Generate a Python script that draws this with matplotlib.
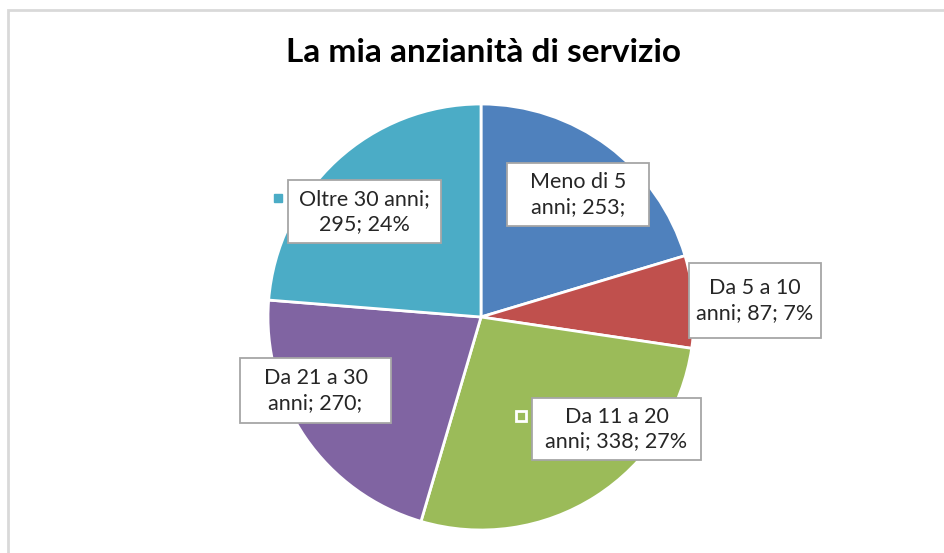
import matplotlib.pyplot as plt
from matplotlib.patches import Rectangle

# dati del grafico
categorie = ["Meno di 5 anni", "Da 5 a 10 anni", "Da 11 a 20 anni", "Da 21 a 30 anni", "Oltre 30 anni"]
valori = [253, 87, 338, 270, 295]
colori = ["#4F81BD", "#C0504D", "#9BBB59", "#8064A2", "#4BACC6"]
# testo delle etichette come nel grafico originale (alcune troncate)
etichette = [
    "Meno di 5\nanni; 253;",
    "Da 5 a 10\nanni; 87; 7%",
    "Da 11 a 20\nanni; 338; 27%",
    "Da 21 a 30\nanni; 270;",
    "Oltre 30 anni;\n295; 24%",
]

# centro e raggio della torta in pixel, per l'impaginazione
W, H = 944, 553
CX, CY, R = 481, 317, 213

# posizione (centro) e dimensione delle caselle etichetta, in pixel
box_pos = [(578, 194.5), (755, 300.5), (616.5, 429), (315.5, 390.5), (364.5, 211.5)]
box_size = [(142, 63), (132, 75), (169, 62), (151, 65), (153, 63)]

plt.rcParams["font.family"] = ["Lato", "DejaVu Sans"]

fig = plt.figure(figsize=(W / 100, H / 100), dpi=100)
ax = fig.add_axes([0, 0, 1, 1])

# cornice grigia dell'area grafico
fig.patches.append(Rectangle((8 / W, -0.1), 1.1, 1 + 0.1 - 10 / H, transform=fig.transFigure,
                             fill=False, edgecolor="#D9D9D9", linewidth=2))

wedges, _ = ax.pie(valori, colors=colori, startangle=90, counterclock=False, radius=1,
                   wedgeprops=dict(edgecolor="white", linewidth=2))
ax.set_aspect("auto")
ax.set_xlim(-CX / R, (W - CX) / R)
ax.set_ylim(-(H - CY) / R, CY / R)
ax.axis("off")

def px(x, y):
    return (x - CX) / R, (CY - y) / R

for i, testo in enumerate(etichette):
    (bx, by), (bw, bh) = box_pos[i], box_size[i]
    x0, y0 = px(bx - bw / 2, by + bh / 2)
    ax.add_patch(Rectangle((x0, y0), bw / R, bh / R, facecolor="white",
                           edgecolor="#A6A6A6", linewidth=1.3, zorder=5))
    tx, ty = px(bx, by)
    ax.text(tx, ty, testo, ha="center", va="center", fontsize=15.5,
            color="#262626", linespacing=1.3, zorder=6)

# chiavi di legenda accanto ad alcune etichette
kx, ky = px(278, 198)
ax.plot(kx, ky, marker="s", markersize=6, color=colori[4], zorder=6)
kx, ky = px(520.5, 415.5)
ax.plot(kx, ky, marker="s", markersize=7.5, markerfacecolor=colori[2],
        markeredgecolor="white", markeredgewidth=2, zorder=6)

fig.text(483 / W, 1 - 52 / H, "La mia anzianità di servizio", ha="center", va="center",
         fontsize=24, fontweight="bold", color="black")

fig.savefig("out.png", dpi=100, facecolor="white")
